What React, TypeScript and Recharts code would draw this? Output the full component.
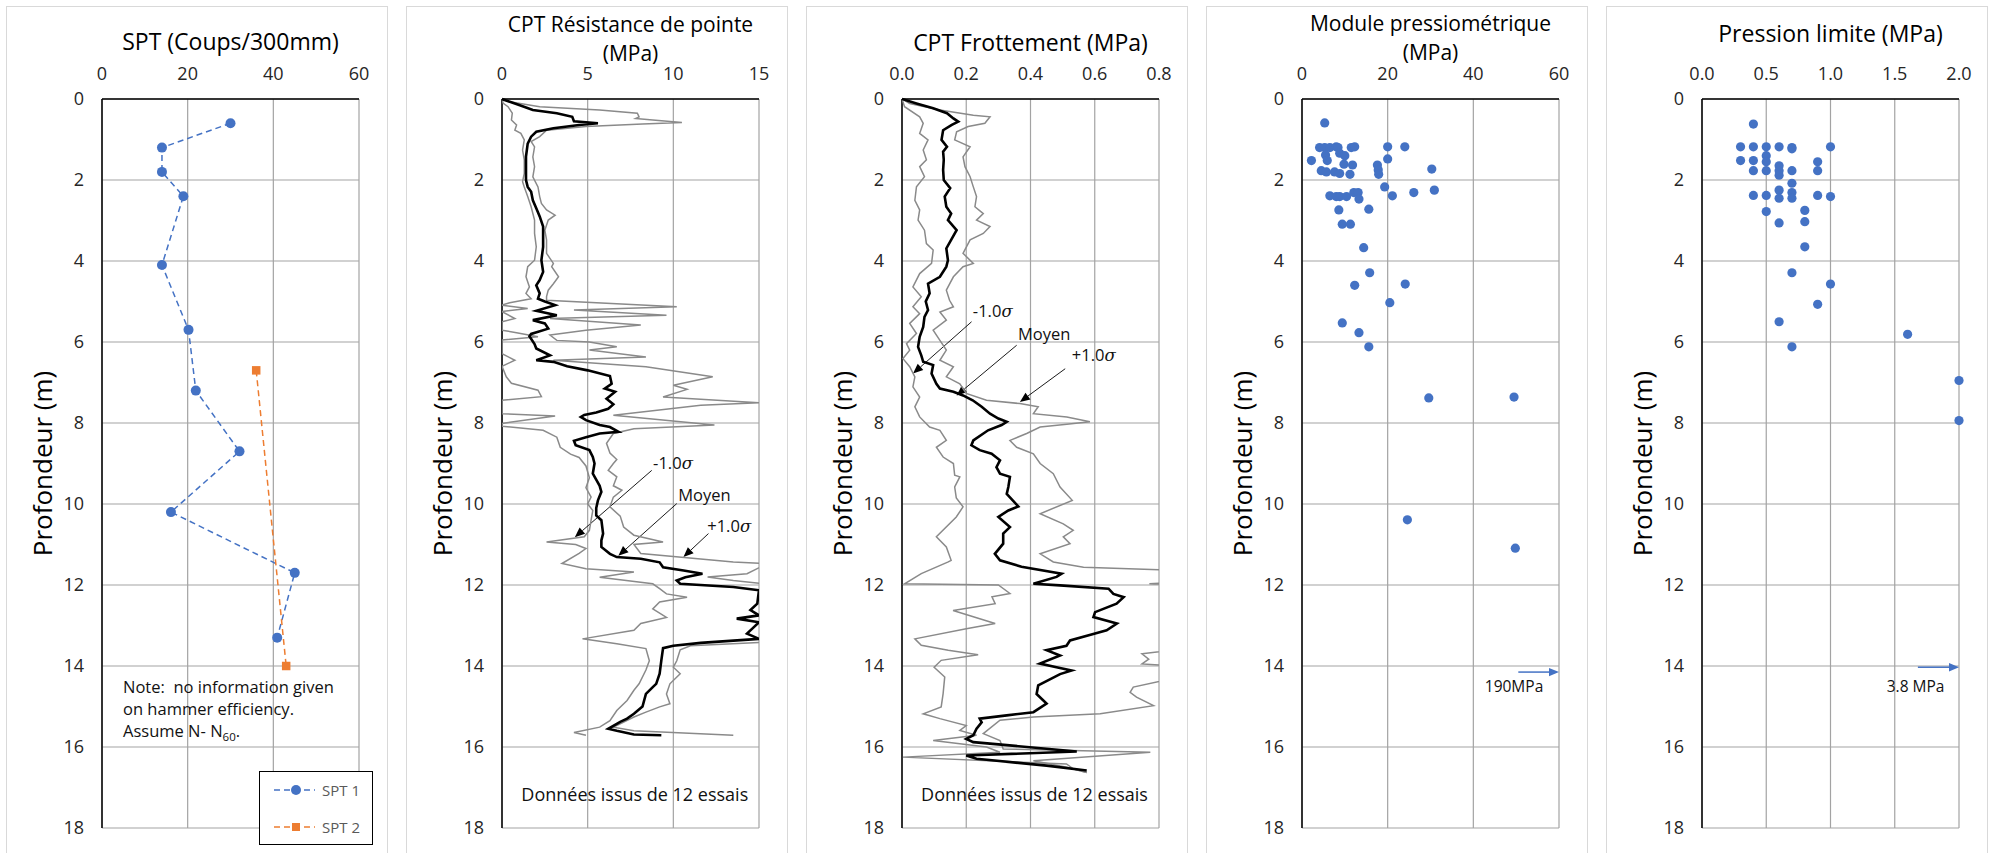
import React from 'react';
import { ScatterChart, Scatter, XAxis, YAxis, CartesianGrid, ReferenceLine, ReferenceDot, Legend } from 'recharts';

// ---- data: [value, depth (m)] ----
const spt1Raw = [[30, 0.6], [14, 1.2], [14, 1.8], [19, 2.4], [14, 4.1], [20.2, 5.7], [21.9, 7.2], [32.1, 8.7], [16.1, 10.2], [45, 11.7], [40.9, 13.3]];
const spt2Raw = [[36, 6.7], [43, 14.0]];

const qcMeanRaw = [[0, 0], [1.0, 0.15], [1.8, 0.27], [3.2, 0.35], [4.1, 0.44], [4.2, 0.55], [5.6, 0.6], [4.5, 0.64], [3.0, 0.72], [2.0, 0.81], [1.7, 0.93], [1.5, 1.1], [1.4, 1.42], [1.4, 2.0], [1.5, 2.17], [1.7, 2.29], [1.8, 2.5], [2.0, 2.7], [2.2, 2.9], [2.4, 3.15], [2.4, 3.65], [2.3, 3.98], [2.4, 4.27], [2.2, 4.47], [2.0, 4.6], [2.2, 4.8], [2.1, 4.93], [2.5, 5.0], [3.1, 5.09], [2.0, 5.23], [3.2, 5.34], [1.8, 5.46], [2.5, 5.54], [2.7, 5.67], [1.7, 5.8], [1.6, 5.86], [1.9, 6.05], [2.0, 6.16], [2.8, 6.33], [2.0, 6.45], [3.0, 6.49], [3.8, 6.6], [5.0, 6.7], [6.3, 6.84], [6.4, 7.03], [6.0, 7.15], [6.6, 7.23], [6.1, 7.4], [6.5, 7.54], [6.2, 7.65], [5.5, 7.74], [4.8, 7.8], [4.6, 7.85], [4.9, 7.93], [5.7, 8.05], [6.3, 8.1], [6.8, 8.22], [5.7, 8.26], [4.9, 8.35], [4.2, 8.44], [4.3, 8.55], [5.1, 8.67], [5.3, 8.84], [5.4, 9.0], [5.3, 9.25], [5.7, 9.55], [5.8, 9.7], [5.6, 9.91], [5.5, 10.1], [5.5, 10.28], [5.8, 10.4], [5.9, 10.73], [5.8, 10.9], [5.8, 11.06], [6.3, 11.23], [6.7, 11.31], [8.1, 11.35], [9.2, 11.44], [9.4, 11.56], [10.6, 11.64], [11.7, 11.72], [10.7, 11.81], [10.2, 11.89], [10.4, 11.97], [13.5, 12.05], [15.0, 12.13], [14.9, 12.46], [14.5, 12.62], [15, 12.75], [13.7, 12.83], [15, 12.92], [14.7, 13.04], [14.3, 13.2], [15, 13.33], [11.6, 13.43], [10.0, 13.5], [9.4, 13.56], [9.3, 13.86], [9.2, 14.19], [9.0, 14.44], [8.8, 14.52], [8.4, 14.69], [8.2, 15.0], [7.7, 15.18], [7.3, 15.3], [6.9, 15.38], [6.2, 15.55], [6.7, 15.6], [7.7, 15.69], [9.3, 15.71]];
const qcPlusRaw = [[0, 0], [0.45, 0.07], [2.2, 0.19], [5.7, 0.27], [7.9, 0.35], [8.0, 0.44], [7.8, 0.48], [8.8, 0.52], [10.5, 0.58], [8.2, 0.62], [4.9, 0.68], [2.6, 0.77], [2.2, 0.93], [1.7, 1.05], [1.9, 1.18], [1.8, 1.43], [1.9, 1.67], [1.8, 1.92], [2.1, 2.17], [2.2, 2.41], [2.3, 2.58], [2.6, 2.74], [3.1, 2.87], [2.7, 2.99], [2.5, 3.24], [2.6, 3.48], [2.6, 3.81], [3.0, 4.06], [2.9, 4.14], [3.3, 4.39], [3.0, 4.56], [2.7, 4.72], [2.6, 4.88], [2.6, 4.97], [10.2, 5.13], [4.2, 5.21], [9.6, 5.34], [2.8, 5.42], [8.1, 5.58], [4.9, 5.71], [2.8, 5.83], [3.2, 5.96], [5.1, 6.0], [6.7, 6.12], [5.1, 6.2], [8.4, 6.37], [3.0, 6.45], [8.4, 6.61], [12.3, 6.86], [10.0, 7.07], [10.8, 7.17], [9.4, 7.36], [15, 7.5], [11.6, 7.56], [6.5, 7.81], [12.4, 8.05], [7.7, 8.14], [6.5, 8.26], [6.1, 8.5], [6.3, 8.74], [6.7, 8.9], [6.5, 9.0], [6.2, 9.17], [6.7, 9.33], [6.5, 9.55], [7.0, 9.66], [6.5, 9.83], [6.3, 10.07], [6.9, 10.3], [7.1, 10.57], [7.7, 10.77], [9.4, 10.94], [7.7, 11.0], [8.1, 11.22], [13.5, 11.43], [15.5, 11.47], [14.3, 11.72], [12.0, 11.8], [13.5, 11.89], [16, 12.0], [17, 12.5], [17, 13.0], [16, 13.4], [11.0, 13.5], [10.4, 13.6], [10.2, 13.87], [10.0, 14.03], [10.4, 14.19], [9.8, 14.44], [9.6, 14.69], [9.8, 14.93], [9.2, 15.01], [8.4, 15.14], [7.7, 15.26], [6.9, 15.43], [6.5, 15.51], [7.7, 15.6], [13.5, 15.71]];
const qcMinusRaw = [[0, 0], [0.06, 0.1], [0.35, 0.19], [0.6, 0.35], [0.55, 0.52], [0.85, 0.64], [0.75, 0.77], [1.1, 0.85], [1.3, 1.01], [1.2, 1.26], [1.3, 1.5], [1.3, 1.84], [1.2, 2.04], [1.3, 2.17], [1.5, 2.41], [1.7, 2.66], [1.9, 2.99], [1.9, 3.32], [2.0, 3.65], [1.9, 3.98], [1.5, 4.14], [1.4, 4.39], [1.6, 4.64], [1.4, 4.8], [1.7, 4.93], [0.45, 5.03], [0, 5.09], [1.5, 5.17], [0, 5.25], [0.75, 5.42], [0, 5.5], [0, 5.71], [0.85, 5.77], [2.1, 5.87], [0, 5.95], [0, 6.29], [0.75, 6.45], [0, 6.6], [0.25, 6.86], [0.55, 7.02], [2.1, 7.19], [2.3, 7.35], [0, 7.44], [0, 7.77], [3.1, 7.83], [0, 8.01], [0, 8.08], [2.4, 8.18], [3.2, 8.35], [3.4, 8.6], [4.0, 8.77], [4.5, 8.85], [4.9, 9.06], [5.1, 9.35], [4.9, 9.6], [5.2, 9.83], [5.0, 10.0], [5.3, 10.16], [5.2, 10.4], [5.1, 10.65], [4.8, 10.81], [2.6, 10.94], [4.3, 11.0], [4.9, 11.1], [4.5, 11.22], [3.5, 11.47], [4.9, 11.6], [7.7, 11.68], [5.7, 11.81], [8.8, 11.97], [9.2, 12.09], [9.6, 12.22], [10.8, 12.3], [9.2, 12.42], [8.8, 12.59], [9.6, 12.8], [8.1, 12.95], [7.7, 13.12], [4.7, 13.33], [6.7, 13.45], [8.4, 13.57], [8.6, 13.87], [8.4, 14.1], [8.0, 14.44], [7.7, 14.6], [7.3, 14.85], [6.7, 15.1], [6.3, 15.35], [5.7, 15.51], [4.2, 15.64], [4.9, 15.71]];

const fsMeanRaw = [[0, 0], [0.045, 0.11], [0.097, 0.23], [0.14, 0.35], [0.16, 0.48], [0.175, 0.56], [0.155, 0.64], [0.128, 0.77], [0.123, 1.01], [0.14, 1.18], [0.128, 1.3], [0.13, 1.5], [0.128, 1.75], [0.13, 2.0], [0.15, 2.2], [0.133, 2.41], [0.138, 2.66], [0.153, 2.83], [0.143, 2.99], [0.17, 3.24], [0.153, 3.48], [0.138, 3.69], [0.143, 3.98], [0.138, 4.14], [0.118, 4.39], [0.081, 4.56], [0.086, 4.8], [0.074, 5.0], [0.081, 5.21], [0.07, 5.38], [0.066, 5.63], [0.055, 5.87], [0.05, 6.12], [0.06, 6.33], [0.066, 6.49], [0.097, 6.57], [0.092, 6.78], [0.107, 7.03], [0.118, 7.15], [0.16, 7.23], [0.19, 7.32], [0.22, 7.44], [0.248, 7.6], [0.274, 7.77], [0.3, 7.89], [0.326, 7.97], [0.31, 8.05], [0.268, 8.18], [0.222, 8.43], [0.216, 8.55], [0.242, 8.67], [0.279, 8.76], [0.305, 8.92], [0.294, 9.09], [0.305, 9.25], [0.336, 9.33], [0.331, 9.58], [0.326, 9.75], [0.362, 10.06], [0.331, 10.16], [0.3, 10.32], [0.336, 10.57], [0.315, 10.73], [0.315, 10.98], [0.289, 11.23], [0.305, 11.39], [0.372, 11.55], [0.497, 11.72], [0.481, 11.8], [0.409, 11.97], [0.492, 12.01], [0.643, 12.09], [0.658, 12.22], [0.69, 12.3], [0.668, 12.46], [0.601, 12.67], [0.596, 12.79], [0.669, 12.95], [0.637, 13.12], [0.601, 13.2], [0.523, 13.37], [0.512, 13.5], [0.45, 13.61], [0.492, 13.74], [0.429, 13.94], [0.481, 14.03], [0.528, 14.11], [0.492, 14.2], [0.424, 14.48], [0.419, 14.69], [0.45, 14.93], [0.409, 15.14], [0.326, 15.22], [0.242, 15.3], [0.248, 15.39], [0.232, 15.55], [0.222, 15.71], [0.2, 15.8], [0.222, 15.88], [0.544, 16.11], [0.2, 16.21], [0.232, 16.29], [0.45, 16.46], [0.575, 16.58]];
const fsMinusRaw = [[0, 0], [0.008, 0.19], [0.055, 0.44], [0.066, 0.6], [0.055, 0.85], [0.081, 1.01], [0.066, 1.26], [0.076, 1.5], [0.055, 1.67], [0.07, 1.92], [0.045, 2.17], [0.04, 2.5], [0.055, 2.74], [0.05, 2.99], [0.07, 3.24], [0.076, 3.57], [0.097, 3.73], [0.092, 4.06], [0.055, 4.31], [0.034, 4.64], [0.06, 4.88], [0.034, 5.13], [0.055, 5.3], [0.024, 5.54], [0.045, 5.79], [0.014, 6.04], [0.024, 6.2], [0.003, 6.41], [0.024, 6.61], [0.04, 6.86], [0.034, 7.11], [0.055, 7.36], [0.04, 7.6], [0.055, 7.85], [0.086, 8.1], [0.118, 8.18], [0.138, 8.43], [0.107, 8.6], [0.128, 8.84], [0.16, 9.0], [0.164, 9.29], [0.18, 9.33], [0.164, 9.58], [0.169, 9.85], [0.19, 10.07], [0.169, 10.32], [0.107, 10.81], [0.138, 11.06], [0.153, 11.39], [0.144, 11.43], [0.06, 11.72], [0.008, 11.97], [0.3, 12.0], [0.336, 12.21], [0.28, 12.29], [0.29, 12.46], [0.159, 12.63], [0.29, 12.95], [0.2, 13.08], [0.04, 13.33], [0.06, 13.49], [0.144, 13.61], [0.237, 13.72], [0.122, 13.86], [0.1, 14.03], [0.133, 14.27], [0.128, 14.68], [0.122, 15.01], [0.066, 15.18], [0.118, 15.3], [0.2, 15.47], [0.18, 15.59], [0.232, 15.71], [0.097, 15.84], [0.263, 16.0], [0.305, 16.13], [0.003, 16.25], [0.512, 16.42], [0.533, 16.54], [0.575, 16.63]];
const fsPlusRaw = [[0, 0], [0.024, 0.11], [0.118, 0.27], [0.222, 0.4], [0.274, 0.44], [0.258, 0.6], [0.206, 0.68], [0.17, 0.81], [0.164, 1.01], [0.212, 1.18], [0.19, 1.43], [0.196, 1.67], [0.212, 1.92], [0.222, 2.17], [0.232, 2.41], [0.227, 2.66], [0.253, 2.83], [0.232, 2.99], [0.274, 3.15], [0.253, 3.32], [0.212, 3.48], [0.19, 3.81], [0.222, 4.06], [0.19, 4.14], [0.16, 4.39], [0.138, 4.72], [0.148, 4.97], [0.16, 5.13], [0.118, 5.26], [0.138, 5.46], [0.097, 5.71], [0.118, 5.96], [0.138, 6.2], [0.118, 6.45], [0.16, 6.61], [0.138, 6.86], [0.18, 7.03], [0.2, 7.27], [0.263, 7.44], [0.367, 7.52], [0.424, 7.6], [0.409, 7.77], [0.513, 7.85], [0.585, 7.97], [0.513, 8.03], [0.43, 8.1], [0.388, 8.26], [0.336, 8.43], [0.357, 8.6], [0.409, 8.76], [0.43, 9.0], [0.471, 9.25], [0.492, 9.58], [0.53, 9.91], [0.43, 10.24], [0.502, 10.49], [0.533, 10.65], [0.502, 10.81], [0.523, 10.98], [0.43, 11.23], [0.471, 11.43], [0.565, 11.56], [0.85, 11.64], [0.85, 11.94], [0.77, 11.97], [0.85, 12.0], [0.95, 12.5], [0.9, 13.55], [0.747, 13.7], [0.768, 13.83], [0.747, 13.95], [0.85, 14.0], [0.85, 14.3], [0.72, 14.52], [0.71, 14.65], [0.73, 14.77], [0.783, 14.98], [0.617, 15.18], [0.409, 15.26], [0.305, 15.34], [0.253, 15.67], [0.305, 15.84], [0.315, 16.05], [0.773, 16.13], [0.409, 16.34], [0.513, 16.5], [0.575, 16.63]];

const emRaw = [[5.3, 0.59], [4.1, 1.2], [5.3, 1.2], [6.5, 1.2], [8.0, 1.18], [8.4, 1.2], [11.5, 1.2], [12.3, 1.18], [20.0, 1.18], [24.0, 1.18], [2.2, 1.52], [5.5, 1.38], [5.9, 1.52], [8.8, 1.34], [10.0, 1.4], [9.8, 1.61], [11.8, 1.63], [20.0, 1.48], [17.6, 1.63], [17.8, 1.75], [17.9, 1.86], [30.3, 1.73], [4.5, 1.77], [5.7, 1.8], [7.6, 1.8], [8.8, 1.84], [11.2, 1.86], [19.3, 2.17], [30.9, 2.25], [6.5, 2.39], [8.0, 2.41], [8.8, 2.41], [10.4, 2.41], [12.1, 2.31], [13.1, 2.31], [13.3, 2.47], [21.1, 2.39], [26.1, 2.31], [8.6, 2.74], [15.6, 2.72], [9.4, 3.09], [11.3, 3.09], [14.4, 3.67], [15.8, 4.29], [12.3, 4.6], [24.1, 4.57], [20.5, 5.03], [9.4, 5.53], [13.3, 5.77], [15.6, 6.12], [29.6, 7.38], [49.5, 7.36], [24.6, 10.39], [49.8, 11.09]];
const plRaw = [[0.4, 0.62], [0.3, 1.18], [0.4, 1.18], [0.5, 1.18], [0.6, 1.18], [0.7, 1.2], [0.7, 1.23], [1.0, 1.18], [0.3, 1.52], [0.4, 1.52], [0.5, 1.4], [0.5, 1.55], [0.9, 1.55], [0.4, 1.77], [0.5, 1.77], [0.6, 1.65], [0.6, 1.77], [0.6, 1.88], [0.7, 1.77], [0.9, 1.77], [0.7, 2.08], [0.6, 2.25], [0.7, 2.31], [0.4, 2.38], [0.5, 2.38], [0.6, 2.45], [0.7, 2.45], [0.9, 2.38], [1.0, 2.41], [0.5, 2.78], [0.8, 2.75], [0.6, 3.06], [0.8, 3.03], [0.8, 3.65], [0.7, 4.29], [1.0, 4.57], [0.9, 5.07], [0.6, 5.5], [1.6, 5.81], [0.7, 6.12], [2.0, 6.95], [2.0, 7.94]];

const depthTicks = [0, 2, 4, 6, 8, 10, 12, 14, 16, 18];
const sptTicks = [0, 20, 40, 60];
const qcTicks = [0, 5, 10, 15];
const fsTicks = [0, 0.2, 0.4, 0.6, 0.8];
const emTicks = [0, 20, 40, 60];
const plTicks = [0, 0.5, 1.0, 1.5, 2.0];

const seriesNames = ['SPT 1', 'SPT 2'];

type Pt = { v: number; d: number };
const toPts = (a: number[][]): Pt[] => a.map(([v, d]) => ({ v, d }));

const spt1 = toPts(spt1Raw);
const spt2 = toPts(spt2Raw);
const qcMean = toPts(qcMeanRaw);
const qcPlus = toPts(qcPlusRaw);
const qcMinus = toPts(qcMinusRaw);
const fsMean = toPts(fsMeanRaw);
const fsPlus = toPts(fsPlusRaw);
const fsMinus = toPts(fsMinusRaw);
const emPts = toPts(emRaw);
const plPts = toPts(plRaw);

const FONT = '"Open Sans", sans-serif';
const BLUE = '#4472C4';
const ORANGE = '#ED7D31';
const GREY = '#8a8a8a';
const W = 380;
const H = 846;
const MARGIN = { top: 0, right: 28, bottom: 25, left: 0 };
const PLOT_CX = 95 + (W - 28 - 95) / 2;
const PLOT_CY = (92 + (H - 25)) / 2;

const noShape = () => <g />;
const dot = (r: number, fill: string) => (p: any) => <circle cx={p.cx} cy={p.cy} r={r} fill={fill} />;
const square = (s: number, fill: string) => (p: any) => <rect x={p.cx - s / 2} y={p.cy - s / 2} width={s} height={s} fill={fill} />;

const arrow = (color: string, width: number, head: number) => (p: any) => {
  const { x1, y1, x2, y2 } = p;
  const a = Math.atan2(y2 - y1, x2 - x1);
  const hx = x2 - head * Math.cos(a);
  const hy = y2 - head * Math.sin(a);
  const w = head * 0.42;
  const px = -Math.sin(a) * w;
  const py = Math.cos(a) * w;
  return (
    <g>
      <line x1={x1} y1={y1} x2={hx} y2={hy} stroke={color} strokeWidth={width} />
      <polygon points={`${x2},${y2} ${hx + px},${hy + py} ${hx - px},${hy - py}`} fill={color} />
    </g>
  );
};

const textAt = (lines: React.ReactNode[], size: number, anchor: string = 'start', lh = 22) => (p: any) => (
  <text x={p.cx} y={p.cy} textAnchor={anchor} fontSize={size} fontFamily={FONT} fill="#111">
    {lines.map((l, i) => (
      <tspan key={i} x={p.cx} dy={i === 0 ? 0 : lh}>{l}</tspan>
    ))}
  </text>
);

const sigma = (pre: string) => (
  <>
    {pre}
    <tspan fontFamily="DejaVu Serif" fontStyle="italic">σ</tspan>
  </>
);

type Note = { text: React.ReactNode; at: [number, number]; from: [number, number]; to: [number, number] };
const qcNotes: Note[] = [
  { text: sigma('-1.0'), at: [8.82, 9.13], from: [8.74, 9.17], to: [4.25, 10.82] },
  { text: 'Moyen', at: [10.28, 9.93], from: [10.2, 9.99], to: [6.79, 11.28] },
  { text: sigma('+1.0'), at: [11.98, 10.69], from: [12.05, 10.73], to: [10.59, 11.31] },
];
const fsNotes: Note[] = [
  { text: sigma('-1.0'), at: [0.2206, 5.38], from: [0.2165, 5.5], to: [0.0343, 6.78] },
  { text: 'Moyen', at: [0.361, 5.96], from: [0.357, 6.08], to: [0.17, 7.32] },
  { text: sigma('+1.0'), at: [0.5286, 6.47], from: [0.508, 6.66], to: [0.367, 7.48] },
];

const renderNotes = (notes: Note[]) =>
  notes.flatMap((n, i) => [
    <ReferenceLine key={`l${i}`} segment={[{ x: n.from[0], y: n.from[1] }, { x: n.to[0], y: n.to[1] }]} ifOverflow="visible" shape={arrow('#000', 0.9, 10)} />,
    <ReferenceDot key={`t${i}`} x={n.at[0]} y={n.at[1]} r={0} ifOverflow="visible" shape={textAt([n.text], 16.5)} />,
  ]);

const SptLegend = () => {
  const items = [
    { name: seriesNames[0], color: BLUE, y: 18 },
    { name: seriesNames[1], color: ORANGE, y: 55 },
  ];
  return (
    <div style={{ width: 114, height: 74, border: '1.5px solid #000', boxSizing: 'border-box', background: '#fff' }}>
      <svg width={111} height={71}>
        {items.map((it, i) => (
          <g key={it.name}>
            <line x1={14} x2={55} y1={it.y} y2={it.y} stroke={it.color} strokeWidth={1.5} strokeDasharray="6 4" />
            {i === 0 ? (
              <circle cx={36} cy={it.y} r={5} fill={it.color} />
            ) : (
              <rect x={32} y={it.y - 4} width={8} height={8} fill={it.color} />
            )}
            <text x={62} y={it.y + 5.5} fontSize={15} fontFamily={FONT} fill="#595959">{it.name}</text>
          </g>
        ))}
      </svg>
    </div>
  );
};

type PanelProps = {
  index: number;
  title: string[];
  titleSize: number;
  titleY: number[];
  xTicks: number[];
  decimals: number;
  overflow?: boolean;
  children: React.ReactNode;
};

const Panel = ({ index, title, titleSize, titleY, xTicks, decimals, overflow, children }: PanelProps) => (
  <div
    style={{
      position: 'absolute',
      left: 6 + 400 * index,
      top: 5.5,
      width: 382,
      height: 850,
      border: '1px solid #d9d9d9',
      borderBottom: 'none',
      boxSizing: 'border-box',
      background: '#fff',
    }}
  >
    <ScatterChart width={W} height={H} margin={MARGIN} style={{ fontFamily: FONT }}>
      <CartesianGrid stroke="#a3a3a3" strokeWidth={1.2} />
      <XAxis
        type="number"
        dataKey="v"
        orientation="top"
        domain={[xTicks[0], xTicks[xTicks.length - 1]]}
        ticks={xTicks}
        allowDataOverflow={!!overflow}
        height={92}
        tickSize={0}
        tickMargin={19}
        tickLine={false}
        axisLine={{ stroke: '#000', strokeWidth: 1.5 }}
        tick={{ fill: '#262626', fontSize: 18, fontFamily: FONT }}
        tickFormatter={(v: number) => v.toFixed(decimals)}
        label={() => (
          <text textAnchor="middle" fontSize={titleSize} fontFamily={FONT} fill="#000">
            {title.map((t, i) => (
              <tspan key={i} x={PLOT_CX} y={titleY[i]}>{t}</tspan>
            ))}
          </text>
        )}
      />
      <YAxis
        type="number"
        dataKey="d"
        reversed
        domain={[0, 18]}
        ticks={depthTicks}
        width={95}
        tickSize={0}
        tickMargin={18}
        tickLine={false}
        axisLine={{ stroke: '#000', strokeWidth: 1.5 }}
        tick={{ fill: '#262626', fontSize: 18, fontFamily: FONT }}
        label={() => (
          <text
            x={44.5}
            y={PLOT_CY}
            transform={`rotate(-90, 44.5, ${PLOT_CY})`}
            textAnchor="middle"
            fontSize={26}
            fontFamily={FONT}
            fill="#000"
          >
            Profondeur (m)
          </text>
        )}
      />
      {children}
    </ScatterChart>
  </div>
);

export default function App() {
  return (
    <div style={{ position: 'fixed', left: 0, top: 0, width: 1995, height: 853, overflow: 'hidden', background: '#fff' }}>
      <Panel index={0} title={['SPT (Coups/300mm)']} titleSize={23} titleY={[42.8]} xTicks={sptTicks} decimals={0}>
        <Scatter name={seriesNames[0]} data={spt1} fill={BLUE} line={{ stroke: BLUE, strokeWidth: 1.5, strokeDasharray: '6 4' }} shape={dot(5, BLUE)} isAnimationActive={false} />
        <Scatter name={seriesNames[1]} data={spt2} fill={ORANGE} line={{ stroke: ORANGE, strokeWidth: 1.5, strokeDasharray: '6 4' }} shape={square(8.5, ORANGE)} isAnimationActive={false} />
        <ReferenceDot
          x={4.91}
          y={14.67}
          r={0}
          ifOverflow="visible"
          shape={textAt(['Note:\u00a0 no information given', 'on hammer efficiency.', <>Assume N- N<tspan fontSize={11.5} dy={4}>60</tspan><tspan dy={-4}>.</tspan></>], 16.5)}
        />
        <Legend
          verticalAlign="middle"
          align="center"
          layout="horizontal"
          content={() => <SptLegend />}
          wrapperStyle={{ left: 251.5, top: 764, width: 114, height: 74 }}
        />
      </Panel>

      <Panel index={1} title={['CPT Résistance de pointe', '(MPa)']} titleSize={21} titleY={[25.2, 53.5]} xTicks={qcTicks} decimals={0} overflow>
        <Scatter data={qcMinus} fill="none" line={{ stroke: GREY, strokeWidth: 1.5 }} shape={noShape} isAnimationActive={false} />
        <Scatter data={qcPlus} fill="none" line={{ stroke: GREY, strokeWidth: 1.5 }} shape={noShape} isAnimationActive={false} />
        <Scatter data={qcMean} fill="none" line={{ stroke: '#000', strokeWidth: 2.6 }} shape={noShape} isAnimationActive={false} />
        {renderNotes(qcNotes)}
        <ReferenceDot x={7.75} y={17.33} r={0} ifOverflow="visible" shape={textAt(['Données issus de 12 essais'], 18, 'middle')} />
      </Panel>

      <Panel index={2} title={['CPT Frottement (MPa)']} titleSize={23} titleY={[43.5]} xTicks={fsTicks} decimals={1} overflow>
        <Scatter data={fsMinus} fill="none" line={{ stroke: GREY, strokeWidth: 1.5 }} shape={noShape} isAnimationActive={false} />
        <Scatter data={fsPlus} fill="none" line={{ stroke: GREY, strokeWidth: 1.5 }} shape={noShape} isAnimationActive={false} />
        <Scatter data={fsMean} fill="none" line={{ stroke: '#000', strokeWidth: 2.6 }} shape={noShape} isAnimationActive={false} />
        {renderNotes(fsNotes)}
        <ReferenceDot x={0.4125} y={17.33} r={0} ifOverflow="visible" shape={textAt(['Données issus de 12 essais'], 18, 'middle')} />
      </Panel>

      <Panel index={3} title={['Module pressiométrique', '(MPa)']} titleSize={21} titleY={[24.2, 52.5]} xTicks={emTicks} decimals={0}>
        <Scatter data={emPts} fill={BLUE} shape={dot(4.6, BLUE)} isAnimationActive={false} />
        <ReferenceLine segment={[{ x: 50.5, y: 14.15 }, { x: 60, y: 14.15 }]} ifOverflow="visible" shape={arrow(BLUE, 1.5, 10)} />
        <ReferenceDot x={49.5} y={14.65} r={0} ifOverflow="visible" shape={textAt(['190MPa'], 15.5, 'middle')} />
      </Panel>

      <Panel index={4} title={['Pression limite (MPa)']} titleSize={23} titleY={[35.2]} xTicks={plTicks} decimals={1}>
        <Scatter data={plPts} fill={BLUE} shape={dot(4.6, BLUE)} isAnimationActive={false} />
        <ReferenceLine segment={[{ x: 1.68, y: 14.03 }, { x: 2.0, y: 14.03 }]} ifOverflow="visible" shape={arrow(BLUE, 1.5, 10)} />
        <ReferenceDot x={1.662} y={14.65} r={0} ifOverflow="visible" shape={textAt(['3.8 MPa'], 15.5, 'middle')} />
      </Panel>
    </div>
  );
}
